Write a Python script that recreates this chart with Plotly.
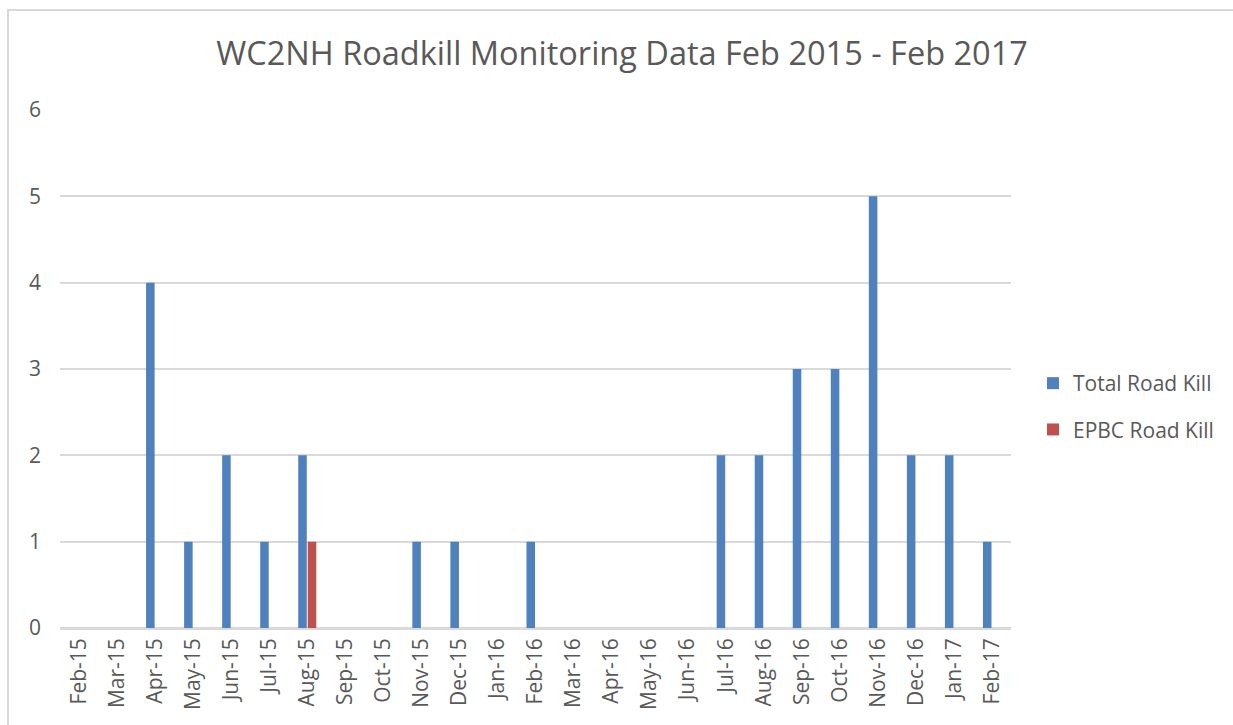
import plotly.graph_objects as go

months = ["Feb-15", "Mar-15", "Apr-15", "May-15", "Jun-15", "Jul-15", "Aug-15",
          "Sep-15", "Oct-15", "Nov-15", "Dec-15", "Jan-16", "Feb-16", "Mar-16",
          "Apr-16", "May-16", "Jun-16", "Jul-16", "Aug-16", "Sep-16", "Oct-16",
          "Nov-16", "Dec-16", "Jan-17", "Feb-17"]
total_road_kill = [0, 0, 4, 1, 2, 1, 2, 0, 0, 1, 1, 0, 1, 0, 0, 0, 0, 2, 2, 3, 3, 5, 2, 2, 1]
epbc_road_kill = [0, 0, 0, 0, 0, 0, 1, 0, 0, 0, 0, 0, 0, 0, 0, 0, 0, 0, 0, 0, 0, 0, 0, 0, 0]
y_ticks = [0, 1, 2, 3, 4, 5, 6]

FONT = "Open Sans"
TEXT = "#595959"
GRID = "#D9D9D9"

fig = go.Figure()
fig.add_trace(go.Bar(x=months, y=total_road_kill, name="Total Road Kill",
                     marker=dict(color="#4F81BD", line=dict(width=0)),
                     legendgroup="a"))
fig.add_trace(go.Bar(x=months, y=epbc_road_kill, name="EPBC Road Kill",
                     marker=dict(color="#C0504D", line=dict(width=0)),
                     legendgroup="b"))

W, H = 1233, 725
L, R, T, B = 60, 222, 110, 97
pw, ph = W - L - R, H - T - B

fig.update_layout(
    width=W, height=H,
    margin=dict(l=L, r=R, t=T, b=B),
    paper_bgcolor="white", plot_bgcolor="white",
    barmode="group", bargap=0.5, bargroupgap=0.1,
    font=dict(family=FONT, color=TEXT, size=20),
    title=dict(text="WC2NH Roadkill Monitoring Data Feb 2015 - Feb 2017",
               x=622 / W, xref="container", xanchor="center",
               y=1 - 54 / H, yref="container", yanchor="middle",
               font=dict(family=FONT, size=32.5, color=TEXT)),
    xaxis=dict(type="category", tickangle=-90, showgrid=False,
               showline=True, linecolor=GRID, linewidth=1.5,
               ticks="", tickfont=dict(size=21, color=TEXT),
               ticklabelstandoff=0),
    yaxis=dict(range=[0, 6], tickvals=y_ticks, showgrid=True,
               gridcolor=GRID, gridwidth=1.5, zeroline=True,
               zerolinecolor=GRID, zerolinewidth=1.5, showline=False,
               ticks="", tickfont=dict(size=21, color=TEXT),
               ticklabelstandoff=18),
    legend=dict(x=(1033 - L) / pw, xanchor="left",
                y=(628 - 363) / ph, yanchor="top",
                font=dict(size=21, color=TEXT),
                traceorder="grouped", tracegroupgap=16,
                bgcolor="rgba(0,0,0,0)"),
    shapes=[dict(type="rect", xref="paper", yref="paper",
                 x0=(8 - L) / pw, x1=(W + 10 - L) / pw,
                 y0=-(H + 10 - (H - B)) / ph, y1=(H - B - 10) / ph,
                 line=dict(color=GRID, width=2), fillcolor="rgba(0,0,0,0)",
                 layer="below")],
)

fig.write_html("out.html")
